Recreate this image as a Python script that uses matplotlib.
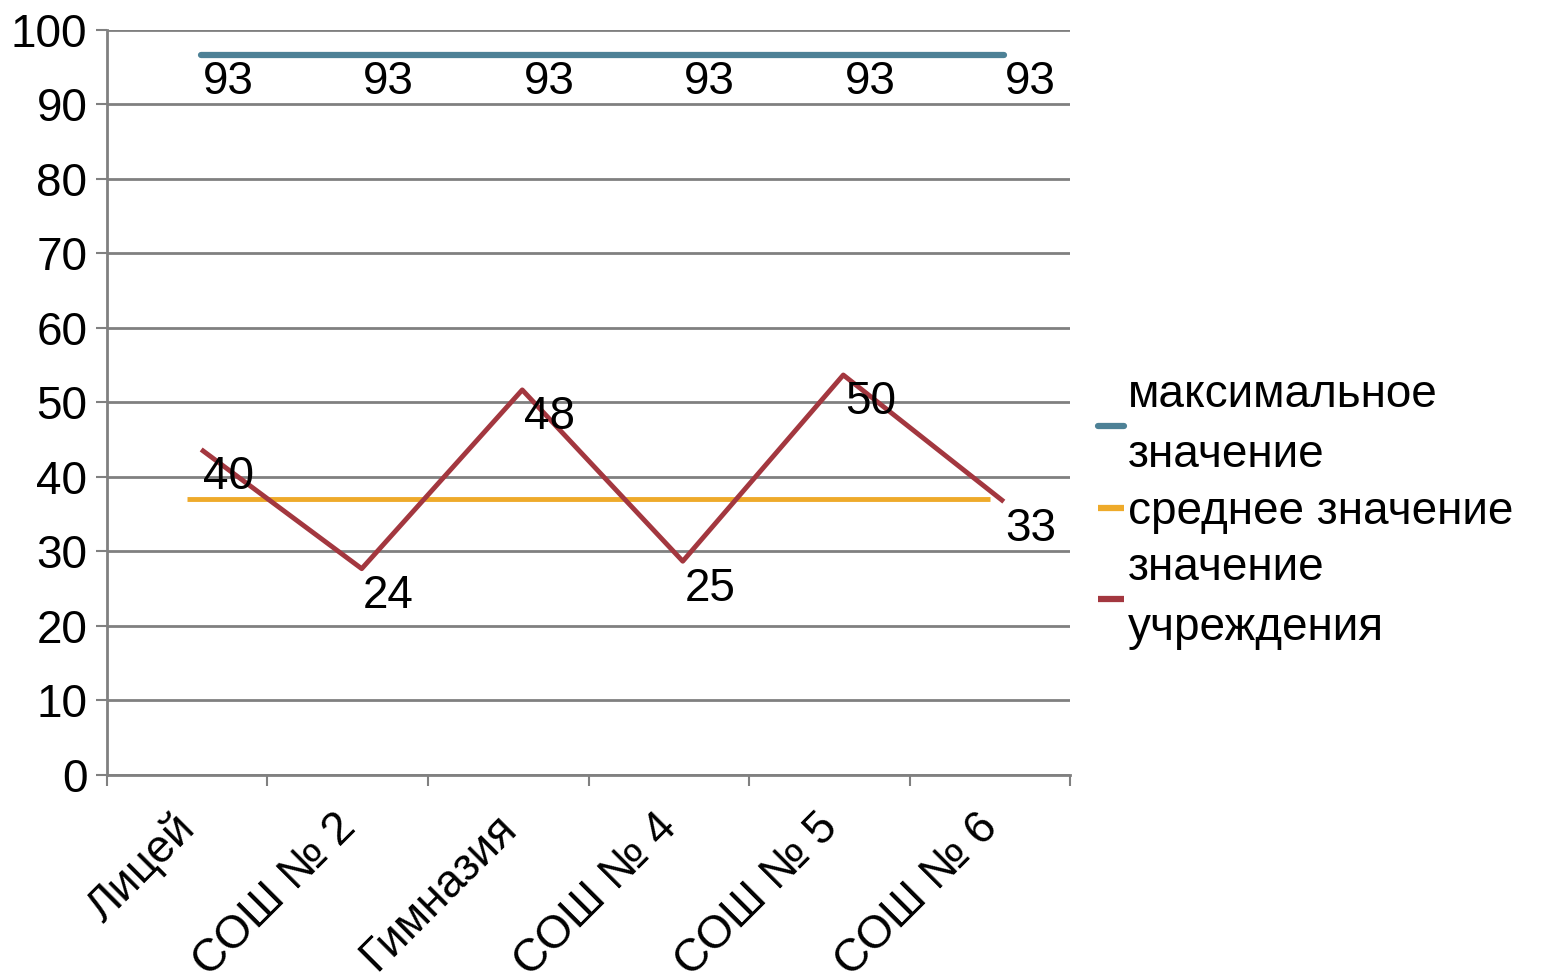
import matplotlib
matplotlib.use('Agg')
import matplotlib.pyplot as plt
import matplotlib.transforms as mtransforms

plt.rcParams['font.family'] = ['Liberation Sans', 'DejaVu Sans']

# data
schools = ['Лицей', 'СОШ № 2', 'Гимназия', 'СОШ № 4', 'СОШ № 5', 'СОШ № 6']
max_val = [93, 93, 93, 93, 93, 93]
avg_val = [37, 37, 37, 37, 37, 37]
inst_val = [40, 24, 48, 25, 50, 33]
y_ticks = [0, 10, 20, 30, 40, 50, 60, 70, 80, 90, 100]

MAX_COL = '#4d8196'
AVG_COL = '#eeaa2a'
INST_COL = '#a3373f'
GRID_COL = '#808080'
FS = 33

fig = plt.figure(figsize=(15.43, 9.8), dpi=100)
ax = fig.add_axes([0.0693, 0.2092, 0.6242, 0.7602])

x = list(range(len(schools)))
# the source draws the max / institution lines slightly shifted against their labels
shift = mtransforms.offset_copy(ax.transData, fig=fig, x=14, y=27.5, units='dots')

l1, = ax.plot(x, max_val, color=MAX_COL, lw=4.5, transform=shift, solid_capstyle='round')
l2, = ax.plot(x, avg_val, color=AVG_COL, lw=3.5, solid_capstyle='butt')
l3, = ax.plot(x, inst_val, color=INST_COL, lw=3.5, transform=shift, solid_capstyle='butt')

for i in x:
    ax.annotate(str(max_val[i]), (i, max_val[i]), xytext=(29.5, 0), textcoords='offset points',
                ha='center', va='center', fontsize=FS)
    ax.annotate(str(inst_val[i]), (i, inst_val[i]), xytext=(29.5, 0), textcoords='offset points',
                ha='center', va='center', fontsize=FS)

ax.set_xlim(-0.5, len(schools) - 0.5)
ax.set_ylim(0, 100)
ax.set_yticks(y_ticks)
ax.set_yticklabels([str(v) for v in y_ticks], fontsize=FS)
ax.yaxis.grid(True, color=GRID_COL, lw=2)
ax.set_axisbelow(True)

# ticks between categories, labels at category centres
ax.set_xticks([i - 0.5 for i in range(len(schools) + 1)])
ax.set_xticklabels([])
ax.set_xticks(x, minor=True)
ax.set_xticklabels(schools, minor=True, rotation=45, ha='right', rotation_mode='anchor', fontsize=FS)
ax.tick_params(axis='x', which='minor', length=0, pad=22)
ax.tick_params(axis='both', which='major', length=8, width=1.5, color=GRID_COL, pad=6)
nudge = mtransforms.ScaledTranslation(-14 / 100, 0, fig.dpi_scale_trans)
for lbl in ax.get_xticklabels(minor=True):
    lbl.set_transform(lbl.get_transform() + nudge)

for s in ['top', 'right']:
    ax.spines[s].set_visible(False)
for s in ['left', 'bottom']:
    ax.spines[s].set_color(GRID_COL)
    ax.spines[s].set_linewidth(2)

leg = fig.legend([l1, l2, l3], ['максимальное\nзначение', 'среднее значение', 'значение\nучреждения'],
                 loc='center left', bbox_to_anchor=(0.7, 0.478), frameon=False, fontsize=FS,
                 handlelength=0.55, handletextpad=0.1, labelspacing=0.28, borderaxespad=0)
for t in leg.get_texts():
    t.set_linespacing(1.45)
for h in leg.legend_handles:
    h.set_linewidth(4.5)

fig.savefig('out.png', dpi=100)
